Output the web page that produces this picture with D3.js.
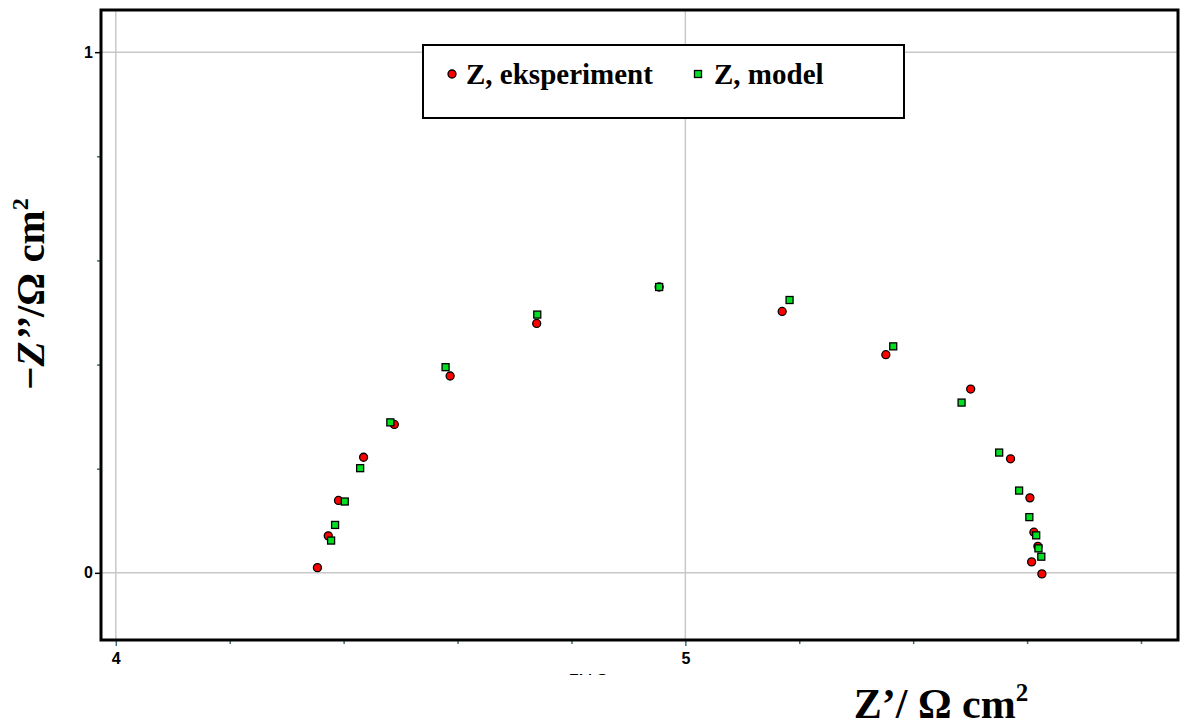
<!DOCTYPE html>
<html>
<head>
<meta charset="utf-8">
<script src="https://cdn.jsdelivr.net/npm/d3@7"></script>
<style>
  body { margin: 0; background: #fff; }
  svg { display: block; }
  .tick text { font-family: "Liberation Sans", Arial, sans-serif; font-weight: bold; font-size: 16px; }
</style>
</head>
<body>
<div id="chartArea"></div>
<script>
// values (Z' and -Z'' in ohm cm2)
var expRe  = [4.354, 4.373, 4.391, 4.435, 4.489, 4.587, 4.739, 4.954, 5.170, 5.352, 5.501, 5.571, 5.605, 5.612, 5.619, 5.608, 5.626];
var expIm  = [0.010, 0.071, 0.139, 0.222, 0.285, 0.378, 0.479, 0.549, 0.502, 0.419, 0.353, 0.219, 0.144, 0.078, 0.051, 0.021, -0.002];
var modRe  = [4.378, 4.385, 4.402, 4.429, 4.482, 4.579, 4.740, 4.954, 5.183, 5.365, 5.485, 5.551, 5.586, 5.604, 5.616, 5.620, 5.625];
var modIm  = [0.062, 0.092, 0.137, 0.201, 0.289, 0.395, 0.496, 0.549, 0.524, 0.435, 0.327, 0.231, 0.158, 0.107, 0.072, 0.047, 0.031];
var xMajor = [4, 5];
var yMajor = [0, 1];
var seriesNames = ['Z, eksperiment', 'Z, model'];

function chartNyquist() {
    var width = 1181, height = 728;
    var margin = {top: 10, right: 3, bottom: 88, left: 101};
    var isMajor = d => Math.abs(d - Math.round(d)) < 1e-6;

    var x = d3.scaleLinear().domain([3.974, 5.865]).range([margin.left, width - margin.right]);
    var y = d3.scaleLinear().domain([-0.129, 1.081]).range([height - margin.bottom, margin.top]);

    var svg = d3.select('#chartArea').append('svg')
        .attr('width', width)
        .attr('height', height);

    svg.append('rect').attr('width', width).attr('height', height).attr('fill', '#fff');

    // grid lines at the labelled values
    svg.append('g').selectAll('line').data(xMajor).enter().append('line')
        .attr('x1', d => x(d)).attr('x2', d => x(d))
        .attr('y1', y.range()[1]).attr('y2', y.range()[0])
        .attr('stroke', '#c8c8c8').attr('stroke-width', 1.5);
    svg.append('g').selectAll('line').data(yMajor).enter().append('line')
        .attr('y1', d => y(d)).attr('y2', d => y(d))
        .attr('x1', x.range()[0]).attr('x2', x.range()[1])
        .attr('stroke', '#c8c8c8').attr('stroke-width', 1.5);

    // bottom axis: minor ticks every 0.2, labels only at 4 and 5
    var xAxis = d3.axisBottom(x).tickValues(d3.range(4, 5.81, 0.2)).tickSize(4)
        .tickFormat(d => (isMajor(d) ? d3.format('d')(d) : ''));
    var gx = svg.append('g').attr('transform', 'translate(0,' + y.range()[0] + ')').call(xAxis);
    gx.select('.domain').remove();
    gx.selectAll('.tick line').attr('stroke', '#3f6f78').attr('stroke-width', 1.5)
        .attr('y2', d => (isMajor(d) ? 6 : 4));
    gx.selectAll('.tick text').attr('y', 13).attr('fill', '#000');

    // left axis
    var yAxis = d3.axisLeft(y).tickValues(d3.range(0, 1.01, 0.2)).tickSize(4)
        .tickFormat(d => (isMajor(d) ? d3.format('d')(d) : ''));
    var gy = svg.append('g').attr('transform', 'translate(' + x.range()[0] + ',0)').call(yAxis);
    gy.select('.domain').remove();
    gy.selectAll('.tick line')
        .attr('stroke', d => (isMajor(d) ? '#000' : '#3f6f78'))
        .attr('stroke-width', 1.5)
        .attr('x2', d => (isMajor(d) ? -6 : -4));
    gy.selectAll('.tick text').attr('x', -8).attr('fill', '#000');

    // frame
    svg.append('rect')
        .attr('x', x.range()[0]).attr('y', y.range()[1])
        .attr('width', x.range()[1] - x.range()[0])
        .attr('height', y.range()[0] - y.range()[1])
        .attr('fill', 'none').attr('stroke', '#000').attr('stroke-width', 3);

    var expData = expRe.map((d, i) => ({re: d, im: expIm[i]}));
    var modData = modRe.map((d, i) => ({re: d, im: modIm[i]}));

    svg.append('g').selectAll('circle').data(expData).enter().append('circle')
        .attr('cx', d => x(d.re)).attr('cy', d => y(d.im))
        .attr('r', 4)
        .attr('fill', '#ff0000').attr('stroke', '#000').attr('stroke-width', 1.3);

    svg.append('g').selectAll('rect').data(modData).enter().append('rect')
        .attr('x', d => x(d.re) - 3.5).attr('y', d => y(d.im) - 3.5)
        .attr('width', 7).attr('height', 7)
        .attr('fill', '#00e020').attr('stroke', '#000').attr('stroke-width', 1.3);

    // legend
    var lg = svg.append('g');
    lg.append('rect').attr('x', 423).attr('y', 45).attr('width', 481).attr('height', 73)
        .attr('fill', '#fff').attr('stroke', '#000').attr('stroke-width', 2);
    lg.append('circle').attr('cx', 452).attr('cy', 74).attr('r', 4)
        .attr('fill', '#ff0000').attr('stroke', '#000').attr('stroke-width', 1.3);
    lg.append('rect').attr('x', 694.5).attr('y', 70.5).attr('width', 7).attr('height', 7)
        .attr('fill', '#00e020').attr('stroke', '#000').attr('stroke-width', 1.3);
    lg.selectAll('text').data(seriesNames).enter().append('text')
        .attr('x', (d, i) => (i === 0 ? 466 : 714)).attr('y', 84)
        .style('font-family', '"Liberation Serif", "Times New Roman", serif')
        .style('font-weight', 'bold').style('font-size', '29px')
        .text(d => d);

    // a stray axis title, mostly hidden under the plot, only its top shows
    svg.append('clipPath').attr('id', 'stray')
        .append('rect').attr('x', 560).attr('y', 671).attr('width', 80).attr('height', 4);
    svg.append('text').attr('clip-path', 'url(#stray)')
        .attr('x', 569).attr('y', 686)
        .style('font-family', 'Arial, "Liberation Sans", sans-serif')
        .style('font-weight', 'bold').style('font-size', '16px')
        .text('Z\u2019 / \u03a9 cm');

    // axis titles
    var xt = svg.append('text').attr('x', 941).attr('y', 718).attr('text-anchor', 'middle')
        .style('font-family', '"Liberation Serif", "Times New Roman", serif')
        .style('font-weight', 'bold').style('font-size', '42px');
    xt.append('tspan').text('Z\u2019/ \u03a9 cm');
    xt.append('tspan').attr('dy', -17).style('font-size', '25px').text('2');

    var yt = svg.append('text')
        .attr('transform', 'translate(44,294) rotate(-90)')
        .attr('text-anchor', 'middle')
        .style('font-family', '"Liberation Serif", "Times New Roman", serif')
        .style('font-weight', 'bold').style('font-size', '41px');
    yt.append('tspan').text('\u2212');
    yt.append('tspan').style('font-style', 'italic').text('Z\u2019\u2019');
    yt.append('tspan').text('/\u03a9 cm');
    yt.append('tspan').attr('dy', -16).style('font-size', '24px').text('2');
}
chartNyquist();
</script>
</body>
</html>
